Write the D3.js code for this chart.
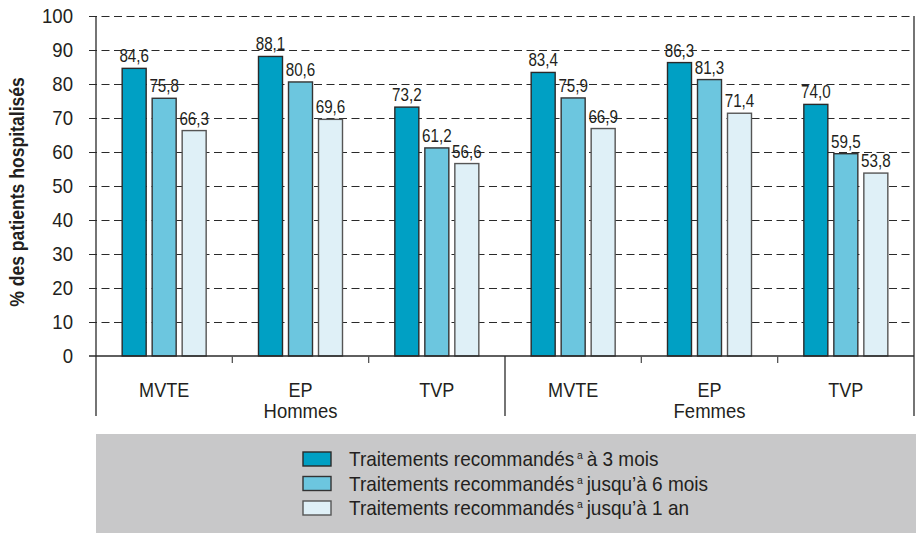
<!DOCTYPE html>
<html>
<head>
<meta charset="utf-8">
<script src="https://cdn.jsdelivr.net/npm/d3@7"></script>
<style>
  body { margin: 0; background: #fff; }
  svg text { font-family: "Liberation Sans", Arial, sans-serif; fill: #231f20; }
</style>
</head>
<body>
<svg id="chart" width="918" height="533"></svg>
<script>
// DATA ----------------------------------------------------------------------
const groups = ["Hommes", "Femmes"];
const categories = ["MVTE", "EP", "TVP"];
const seriesNames = [
  "Traitements recommandés|à 3 mois",
  "Traitements recommandés|jusqu’à 6 mois",
  "Traitements recommandés|jusqu’à 1 an"
];
const troisMois = [84.6, 88.1, 73.2, 83.4, 86.3, 74.0];
const sixMois = [75.8, 80.6, 61.2, 75.9, 81.3, 59.5];
const unAn = [66.3, 69.6, 56.6, 66.9, 71.4, 53.8];
const yTicks = [0, 10, 20, 30, 40, 50, 60, 70, 80, 90, 100];

const colors = ["#00a0c4", "#6cc6df", "#dff0f7"];
const strokes = ["#2a2a2a", "#333333", "#555555"];

// SET UP --------------------------------------------------------------------
const svg = d3.select("#chart");
const margin = { top: 16, left: 96 };
const innerWidth = 914 - margin.left;
const innerHeight = 356 - margin.top;

const slots = [];
groups.forEach(g => categories.forEach(c => slots.push(g + "|" + c)));

const rows = slots.map((s, i) => ({
  slot: s,
  cat: s.split("|")[1],
  values: [troisMois[i], sixMois[i], unAn[i]]
}));

const xScale = d3.scaleBand().domain(slots).range([0, innerWidth]);
const xSub = d3.scaleBand().domain([0, 1, 2]).range([-45, 45]).paddingInner(0.2).paddingOuter(0.1);
const yScale = d3.scaleLinear().domain([0, 100]).range([innerHeight, 0]);

const g = svg.append("g").attr("transform", `translate(${margin.left},${margin.top})`);

// condensed look: squeeze text horizontally around its anchor
const narrow = (sel, x, y, sx) => sel
  .attr("x", 0).attr("y", 0)
  .attr("transform", (d, i) => `translate(${typeof x === "function" ? x(d, i) : x},${typeof y === "function" ? y(d, i) : y}) scale(${sx},1)`);

// GRID ----------------------------------------------------------------------
g.append("g")
  .selectAll("line")
  .data(yTicks.filter(d => d > 0))
  .enter().append("line")
  .attr("x1", -7).attr("x2", innerWidth)
  .attr("y1", d => Math.round(yScale(d)) + 0.5).attr("y2", d => Math.round(yScale(d)) + 0.5)
  .attr("stroke", "#2a2a2a")
  .attr("stroke-width", 1.2)
  .attr("stroke-dasharray", "8,4.5");

// Y AXIS --------------------------------------------------------------------
const yAxis = d3.axisLeft(yScale).tickValues(yTicks).tickSize(0).tickPadding(23);
const yg = g.append("g").call(yAxis);
yg.select(".domain").remove();
yg.selectAll(".tick text")
  .attr("font-size", 20)
  .style("fill", "#231f20")
  .attr("x", -23 / 0.93)
  .attr("transform", "scale(0.93,1)");

svg.append("text")
  .attr("transform", `translate(24,${margin.top + 176}) rotate(-90) scale(0.88,1)`)
  .attr("text-anchor", "middle")
  .attr("font-size", 20)
  .attr("font-weight", "bold")
  .text("% des patients hospitalisés");

// BARS ----------------------------------------------------------------------
const barG = g.selectAll(".cat")
  .data(rows)
  .enter().append("g")
  .attr("transform", d => `translate(${xScale(d.slot) + xScale.bandwidth() / 2},0)`);

barG.selectAll("rect")
  .data(d => d.values)
  .enter().append("rect")
  .attr("x", (d, i) => xSub(i))
  .attr("width", xSub.bandwidth())
  .attr("y", d => yScale(d))
  .attr("height", d => innerHeight - yScale(d))
  .attr("fill", (d, i) => colors[i])
  .attr("stroke", (d, i) => strokes[i])
  .attr("stroke-width", 1.4);

barG.selectAll("text.val")
  .data(d => d.values)
  .enter().append("text")
  .attr("class", "val")
  .attr("text-anchor", "middle")
  .attr("font-size", 19)
  .text(d => d.toFixed(1).replace(".", ","))
  .call(narrow, (d, i) => xSub(i) + xSub.bandwidth() / 2, d => yScale(d) - 6, 0.8);

// AXIS LINES ----------------------------------------------------------------
const lineColor = "#2a2a2a";
g.append("line")
  .attr("x1", -7).attr("x2", innerWidth)
  .attr("y1", innerHeight).attr("y2", innerHeight)
  .attr("stroke", lineColor).attr("stroke-width", 1.5);
// outer verticals
[0, innerWidth].forEach(x => {
  g.append("line")
    .attr("x1", x).attr("x2", x)
    .attr("y1", 0).attr("y2", innerHeight + 60)
    .attr("stroke", lineColor).attr("stroke-width", 1.3);
});
// group separator
g.append("line")
  .attr("x1", xScale(slots[3])).attr("x2", xScale(slots[3]))
  .attr("y1", innerHeight).attr("y2", innerHeight + 60)
  .attr("stroke", lineColor).attr("stroke-width", 1.3);
// small ticks between categories
g.selectAll(".ctick")
  .data(slots.filter((s, i) => i % 3 !== 0))
  .enter().append("line")
  .attr("x1", d => xScale(d)).attr("x2", d => xScale(d))
  .attr("y1", innerHeight).attr("y2", innerHeight + 7)
  .attr("stroke", "#555").attr("stroke-width", 1.3);

// category labels
g.selectAll(".clabel")
  .data(rows)
  .enter().append("text")
  .attr("text-anchor", "middle")
  .attr("font-size", 21)
  .text(d => d.cat)
  .call(narrow, d => xScale(d.slot) + xScale.bandwidth() / 2, innerHeight + 41, 0.86);

// group labels
g.selectAll(".glabel")
  .data(groups)
  .enter().append("text")
  .attr("text-anchor", "middle")
  .attr("font-size", 21)
  .text(d => d)
  .call(narrow, (d, i) => xScale(slots[i * 3 + 1]) + xScale.bandwidth() / 2, innerHeight + 62, 0.88);

// LEGEND --------------------------------------------------------------------
svg.append("rect")
  .attr("x", margin.left).attr("y", 434)
  .attr("width", innerWidth + 2).attr("height", 99)
  .attr("fill", "#c8c8c9");

const leg = svg.append("g").attr("transform", "translate(303,452)");
const legRow = leg.selectAll("g")
  .data(seriesNames)
  .enter().append("g")
  .attr("transform", (d, i) => `translate(0,${i * 24.5})`);

legRow.append("rect")
  .attr("width", 28).attr("height", 14)
  .attr("fill", (d, i) => colors[i])
  .attr("stroke", (d, i) => strokes[i])
  .attr("stroke-width", 1.4);

const lt = legRow.append("text")
  .attr("font-size", 20)
  .call(narrow, 46, 14, 0.95);
lt.append("tspan").text(d => d.split("|")[0]);
lt.append("tspan").attr("font-size", 11).attr("dy", -7).attr("dx", 3).text("a");
lt.append("tspan").attr("dy", 7).attr("dx", 4).text(d => d.split("|")[1]);
</script>
</body>
</html>
